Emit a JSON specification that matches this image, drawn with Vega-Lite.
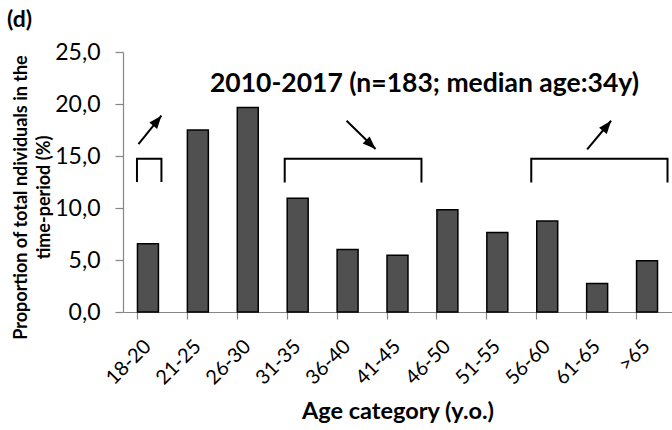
{
  "$schema": "https://vega.github.io/schema/vega-lite/v6.json",
  "autosize": {"type": "none"},
  "width": 549,
  "height": 260,
  "padding": {"left": 123, "top": 52, "right": 0, "bottom": 118},
  "background": "white",
  "config": {
    "font": "Lato",
    "view": {"stroke": null},
    "axis": {"grid": false}
  },
  "title": {
    "text": "(d)",
    "anchor": "start",
    "frame": "group",
    "fontSize": 23,
    "fontWeight": "bold",
    "font": "Lato",
    "color": "black",
    "dx": -116,
    "dy": -5
  },
  "datasets": {
    "ages": [
      {"age": "18-20", "pct": 6.56},
      {"age": "21-25", "pct": 17.49},
      {"age": "26-30", "pct": 19.67},
      {"age": "31-35", "pct": 10.93},
      {"age": "36-40", "pct": 6.01},
      {"age": "41-45", "pct": 5.46},
      {"age": "46-50", "pct": 9.84},
      {"age": "51-55", "pct": 7.65},
      {"age": "56-60", "pct": 8.74},
      {"age": "61-65", "pct": 2.73},
      {"age": ">65", "pct": 4.92}
    ],
    "brackets": [
      {"group": "18-20", "i": 0, "x": 0.28, "y": 12.5},
      {"group": "18-20", "i": 1, "x": 0.28, "y": 14.74},
      {"group": "18-20", "i": 2, "x": 0.77, "y": 14.74},
      {"group": "18-20", "i": 3, "x": 0.77, "y": 12.5},
      {"group": "31-45", "i": 0, "x": 3.24, "y": 12.45},
      {"group": "31-45", "i": 1, "x": 3.24, "y": 14.74},
      {"group": "31-45", "i": 2, "x": 5.98, "y": 14.74},
      {"group": "31-45", "i": 3, "x": 5.98, "y": 12.45},
      {"group": "56-65+", "i": 0, "x": 8.18, "y": 12.45},
      {"group": "56-65+", "i": 1, "x": 8.18, "y": 14.74},
      {"group": "56-65+", "i": 2, "x": 10.91, "y": 14.74},
      {"group": "56-65+", "i": 3, "x": 10.91, "y": 12.45}
    ],
    "arrows": [
      {"group": "18-20", "trend": "increase", "x": 0.31, "y": 16.15, "x2": 0.77, "y2": 18.88},
      {"group": "31-45", "trend": "decrease", "x": 4.48, "y": 18.39, "x2": 5.06, "y2": 15.67},
      {"group": "56-65+", "trend": "increase", "x": 9.3, "y": 15.64, "x2": 9.78, "y2": 18.39}
    ],
    "heading": [
      {"label": "2010-2017 (n=183; median age:34y)", "x": 6.04, "y": 21.15}
    ]
  },
  "layer": [
    {
      "data": {"name": "ages"},
      "mark": {"type": "bar", "fill": "#505050", "stroke": "black", "strokeWidth": 1.5},
      "encoding": {
        "x": {
          "field": "age",
          "type": "nominal",
          "sort": null,
          "scale": {"paddingInner": 0.58, "paddingOuter": 0.29},
          "axis": {
            "title": "Age category (y.o.)",
            "titleFontSize": 23.5,
            "titleFontWeight": "bold",
            "titleColor": "black",
            "titleBaseline": "alphabetic",
            "titleY": 106,
            "labelAngle": -45,
            "labelAlign": "right",
            "labelBaseline": "middle",
            "labelFontSize": 20,
            "labelColor": "black",
            "labelPadding": 24,
            "bandPosition": 0,
            "tickSize": 7,
            "tickColor": "#868686",
            "domainColor": "#868686",
            "tickWidth": 1.2,
            "domainWidth": 1.2
          }
        },
        "y": {
          "field": "pct",
          "type": "quantitative",
          "scale": {"domain": [0, 25], "nice": false},
          "axis": {
            "values": [0, 5, 10, 15, 20, 25],
            "labelExpr": "replace(format(datum.value, '.1f'), '.', ',')",
            "labelFontSize": 23,
            "labelColor": "black",
            "labelPadding": 15,
            "tickSize": 8,
            "tickColor": "#868686",
            "domainColor": "#868686",
            "tickWidth": 1.2,
            "domainWidth": 1.2,
            "title": ["Proportion of total ndividuals in the", "time-period (%)"],
            "titleFontSize": 18,
            "titleFontWeight": "bold",
            "titleColor": "black",
            "titleLineHeight": 23,
            "titleX": -93,
            "titleY": 145
          }
        }
      }
    },
    {
      "layer": [
        {
          "data": {"name": "brackets"},
          "mark": {"type": "line", "color": "black", "strokeWidth": 2, "strokeCap": "butt", "strokeJoin": "miter"},
          "encoding": {
            "x": {"field": "x", "type": "quantitative", "scale": {"domain": [0, 11], "nice": false, "zero": false}, "axis": null},
            "y": {"field": "y", "type": "quantitative"},
            "detail": {"field": "group"},
            "order": {"field": "i"}
          }
        },
        {
          "data": {"name": "arrows"},
          "mark": {"type": "rule", "color": "black", "strokeWidth": 2},
          "encoding": {
            "x": {"field": "x", "type": "quantitative"},
            "y": {"field": "y", "type": "quantitative"},
            "x2": {"field": "x2"},
            "y2": {"field": "y2"}
          }
        },
        {
          "data": {"name": "arrows"},
          "mark": {
            "type": "point",
            "shape": "M0,0L-1,2.6L1,2.6Z",
            "filled": true,
            "color": "black",
            "opacity": 1,
            "size": 100
          },
          "encoding": {
            "x": {"field": "x2", "type": "quantitative"},
            "y": {"field": "y2", "type": "quantitative"},
            "angle": {
              "field": "trend",
              "type": "nominal",
              "scale": {"domain": ["increase", "decrease"], "range": [39, 134]},
              "legend": null
            }
          }
        },
        {
          "data": {"name": "heading"},
          "mark": {"type": "text", "fontSize": 26.5, "fontWeight": "bold", "color": "black", "align": "center", "baseline": "alphabetic"},
          "encoding": {
            "x": {"field": "x", "type": "quantitative"},
            "y": {"field": "y", "type": "quantitative"},
            "text": {"field": "label"}
          }
        }
      ]
    }
  ],
  "resolve": {"scale": {"x": "independent"}}
}
